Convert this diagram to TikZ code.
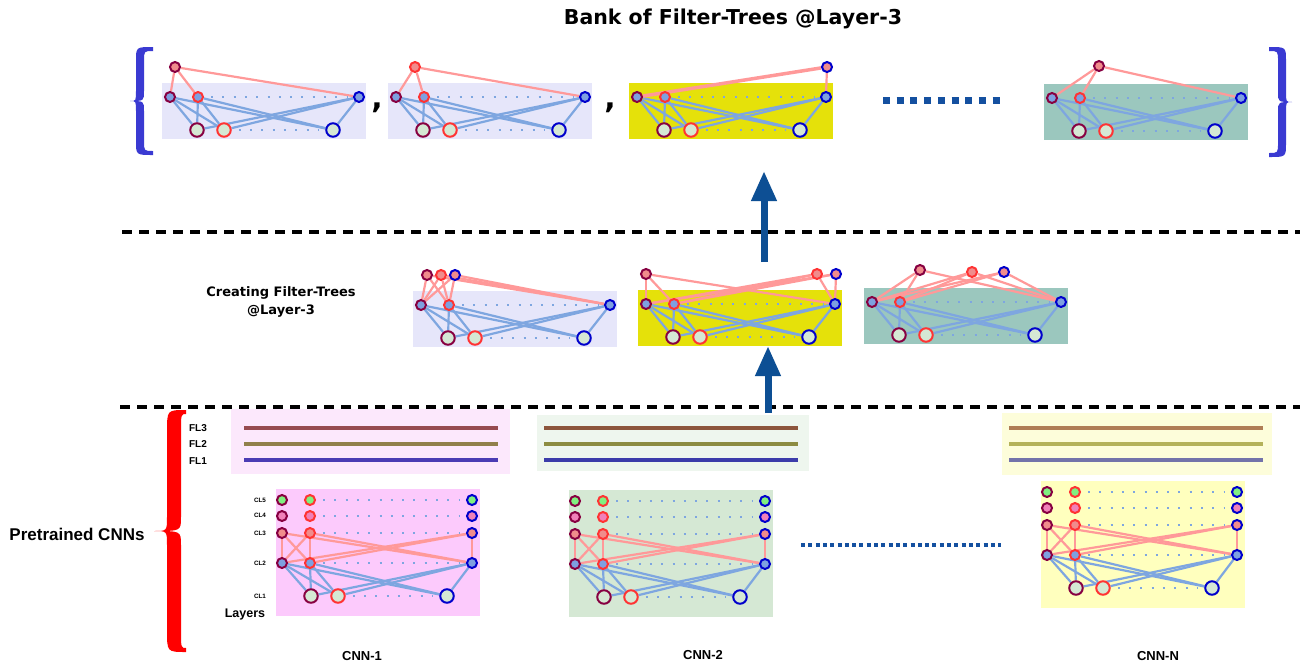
\documentclass[tikz,border=0pt]{standalone}
\usepackage{fontspec}
\setmainfont{Liberation Sans}
\newfontfamily\dejavu{DejaVu Sans}
\usetikzlibrary{arrows.meta}
\pgfdeclarelayer{bg}\pgfdeclarelayer{edges}
\pgfsetlayers{bg,edges,main}
\definecolor{cmar}{RGB}{135,0,65}
\definecolor{cred}{RGB}{255,51,51}
\definecolor{cblu}{RGB}{0,0,204}
\definecolor{fgreen}{RGB}{128,240,128}
\definecolor{fpink}{RGB}{240,128,185}
\definecolor{fsalmon}{RGB}{240,140,140}
\definecolor{fblue}{RGB}{126,160,224}
\definecolor{flight}{RGB}{213,232,212}
\definecolor{cpink}{RGB}{255,153,153}
\definecolor{cbluee}{RGB}{126,166,224}
\definecolor{lav}{RGB}{230,230,250}
\definecolor{yel}{RGB}{229,225,10}
\definecolor{teal}{RGB}{155,199,190}
\definecolor{cAfl}{RGB}{252,232,252}
\definecolor{cAcv}{RGB}{252,202,252}
\definecolor{cBfl}{RGB}{238,246,238}
\definecolor{cBcv}{RGB}{213,232,212}
\definecolor{cNfl}{RGB}{253,253,218}
\definecolor{cNcv}{RGB}{255,255,190}
\definecolor{aLa}{RGB}{150,75,80}\definecolor{aLb}{RGB}{145,128,75}\definecolor{aLc}{RGB}{75,60,180}
\definecolor{bLa}{RGB}{140,85,60}\definecolor{bLb}{RGB}{140,140,65}\definecolor{bLc}{RGB}{60,60,170}
\definecolor{nLa}{RGB}{175,125,85}\definecolor{nLb}{RGB}{180,178,90}\definecolor{nLc}{RGB}{115,115,170}
\definecolor{carrow}{RGB}{13,79,148}
\definecolor{cbrace}{RGB}{58,58,210}
\definecolor{cdots}{RGB}{20,80,160}
\tikzset{
 sn/.style={circle,inner sep=0pt,minimum size=10pt,line width=2pt},
 bn/.style={circle,inner sep=0pt,minimum size=13.5pt,line width=2pt},
 cA/.style={draw=cmar}, cB/.style={draw=cred}, cC/.style={draw=cblu},
 fG/.style={fill=fgreen}, fP/.style={fill=fpink}, fS/.style={fill=fsalmon},
 fB/.style={fill=fblue}, fL/.style={fill=flight},
 dotrow/.style={draw=cbluee,line width=2pt,dash pattern=on 2pt off 9.3pt,shorten <=7pt,shorten >=6pt},
 pe/.style={draw=cpink,line width=2.2pt},
 be/.style={draw=cbluee,line width=2.2pt},
 flline/.style={line width=4pt},
 sepline/.style={draw=black,line width=3.5pt,dash pattern=on 10pt off 7pt},
 bigarrow/.style={draw=carrow,line width=7pt,-{Triangle[width=24pt,length=30pt]}},
 lblfl/.style={font=\bfseries\fontsize{10}{12}\selectfont},
 lblcl/.style={font=\bfseries\fontsize{6.3}{7}\selectfont},
 lblcnn/.style={font=\bfseries\fontsize{13}{15}\selectfont},
 commatext/.style={font=\dejavu\bfseries\fontsize{30}{30}\selectfont,inner sep=0pt},
}
\newcommand{\mkrow}[7]{%
  \node[#6,cA,#7] (#1-1) at ({#3},{#2}) {};
  \node[#6,cB,#7] (#1-2) at ({#4},{#2}) {};
  \node[#6,cC,#7] (#1-3) at ({#5},{#2}) {};
  \draw[dotrow] (#1-2) -- (#1-3);
}
\newcommand{\mkbip}[3]{%
  \begin{pgfonlayer}{edges}
  \foreach \i in {1,2,3}{\foreach \j in {1,2,3}{\draw[#1] (#2-\i) -- (#3-\j);}}
  \end{pgfonlayer}
}
\newcommand{\mktree}[4]{%
  \begin{pgfonlayer}{bg}\fill[#4] (#2,#3) rectangle ({#2+204},{#3+56});\end{pgfonlayer}
  \mkrow{#1m}{#3+14}{#2+8}{#2+36}{#2+197}{sn}{fB}
  \mkrow{#1b}{#3+47}{#2+35}{#2+62}{#2+171}{bn}{fL}
  \mkbip{be}{#1m}{#1b}
}
\newcommand{\mkconv}[4]{%
  \begin{pgfonlayer}{bg}\fill[#4] (#2,#3) rectangle ({#2+204},{#3+127});\end{pgfonlayer}
  \mkrow{#1r5}{#3+11}{#2+6}{#2+34}{#2+196}{sn}{fG}
  \mkrow{#1r4}{#3+27}{#2+6}{#2+34}{#2+196}{sn}{fP}
  \mkrow{#1r3}{#3+44}{#2+6}{#2+34}{#2+196}{sn}{fS}
  \mkrow{#1r2}{#3+74}{#2+6}{#2+34}{#2+196}{sn}{fB}
  \mkrow{#1r1}{#3+107}{#2+35}{#2+62}{#2+171}{bn}{fL}
  \mkbip{pe}{#1r3}{#1r2}
  \mkbip{be}{#1r2}{#1r1}
}
% color, xend, xarm-outer, xarm-inner, xtip, ytop, ybot, hook, tipcurve
\newcommand{\mkbrace}[9]{%
  \pgfmathsetmacro\mkym{(#6+#7)/2}
  \fill[#1] (#2,#6) .. controls (#3,#6) .. (#3,{#6+#8}) -- (#3,{\mkym-#9})
    .. controls (#3,\mkym) .. (#5,\mkym) .. controls (#3,\mkym) .. (#3,{\mkym+#9})
    -- (#3,{#7-#8}) .. controls (#3,#7) .. (#2,#7) -- (#2,{#7-4})
    .. controls (#4,{#7-4}) .. (#4,{#7-#8}) -- (#4,{\mkym+#9})
    .. controls (#4,\mkym) .. (#5,\mkym) .. controls (#4,\mkym) .. (#4,{\mkym-#9})
    -- (#4,{#6+#8}) .. controls (#4,{#6+4}) .. (#2,{#6+4}) -- cycle;
}
\begin{document}
\begin{tikzpicture}[x=1pt,y=-1pt]
\useasboundingbox (0,0) rectangle (1304,667);
\begin{pgfonlayer}{bg}\fill[white] (0,0) rectangle (1304,667);\end{pgfonlayer}

% title
\node[font=\dejavu\bfseries\fontsize{20.5}{24}\selectfont] (title) at (733,19) {Bank of Filter-Trees @Layer-3};

% braces
\mkbrace{cbrace}{153}{136}{144}{130}{47}{155}{14}{10}
\mkbrace{cbrace}{1269}{1286}{1278}{1292}{47}{157}{14}{10}
\mkbrace{red}{186}{167}{181}{154}{410}{652}{22}{14}

% bank of filter trees
\mktree{tA}{162}{83}{lav}
\node[sn,cA,fS] (tAtop) at (175,67) {};
\mktree{tB}{388}{83}{lav}
\node[sn,cB,fS] (tBtop) at (415,67) {};
\mktree{tC}{629}{83}{yel}
\node[sn,cC,fS] (tCtop) at (827,67) {};
\mktree{tD}{1044}{84}{teal}
\node[sn,cA,fS] (tDtop) at (1099,66) {};
\begin{pgfonlayer}{edges}
\foreach \j in {1,2,3}{\draw[pe] (tAtop) -- (tAm-\j); \draw[pe] (tBtop) -- (tBm-\j); \draw[pe] (tDtop) -- (tDm-\j);}
\draw[pe,line width=3.5pt] (tCtop) -- (tCm-1);
\draw[pe] (tCtop) -- (tCm-3);
\end{pgfonlayer}
\node[commatext] (comma1) at (377,108) {,};
\node[commatext] (comma2) at (610,108) {,};
\coordinate (dA) at (883,100);
\coordinate (dB) at (1006,100);
\draw[draw=cdots,line width=7pt,dash pattern=on 7pt off 6.7pt] (dA) -- (dB);

% separators
\draw[sepline] (122,232) -- (1300,232);
\draw[sepline] (120,407) -- (1300,407);

% arrows
\coordinate (ar1s) at (764,262);
\coordinate (ar1e) at (764,171);
\draw[bigarrow] (ar1s) -- (ar1e);
\coordinate (ar2s) at (768,413);
\coordinate (ar2e) at (768,346);
\draw[bigarrow] (ar2s) -- (ar2e);

% creating filter trees
\node[font=\dejavu\bfseries\fontsize{13}{18}\selectfont,align=center] (creating) at (281,302) {Creating Filter-Trees\\@Layer-3};
\mktree{mA}{413}{291}{lav}
\node[sn,cA,fS] (mAt-1) at (427,275) {};
\node[sn,cB,fS] (mAt-2) at (441,275) {};
\node[sn,cC,fS] (mAt-3) at (455,275) {};
\mktree{mB}{638}{290}{yel}
\node[sn,cA,fS] (mBt-1) at (646,274) {};
\node[sn,cB,fS] (mBt-2) at (817,274) {};
\node[sn,cC,fS] (mBt-3) at (836,274) {};
\mktree{mC}{864}{288}{teal}
\node[sn,cA,fS] (mCt-1) at (920,270) {};
\node[sn,cB,fS] (mCt-2) at (972,272) {};
\node[sn,cC,fS] (mCt-3) at (1004,272) {};
\mkbip{pe}{mAt}{mAm}
\mkbip{pe}{mBt}{mBm}
\mkbip{pe}{mCt}{mCm}

% pretrained CNNs
\node[font=\bfseries\fontsize{17}{20}\selectfont] (pre) at (77,534) {Pretrained CNNs};
\node[lblfl] (fl3) at (198,428) {FL3};
\node[lblfl] (fl2) at (198,444) {FL2};
\node[lblfl] (fl1) at (198,461) {FL1};

\begin{pgfonlayer}{bg}
\fill[cAfl] (231,409) rectangle (510,474);
\fill[cBfl] (537,415) rectangle (809,471);
\fill[cNfl] (1002,413) rectangle (1272,475);
\end{pgfonlayer}
\draw[flline,aLa] (244,428) -- (498,428);
\draw[flline,aLb] (244,444) -- (498,444);
\draw[flline,aLc] (244,460) -- (498,460);
\draw[flline,bLa] (544,428) -- (798,428);
\draw[flline,bLb] (544,444) -- (798,444);
\draw[flline,bLc] (544,460) -- (798,460);
\draw[flline,nLa] (1009,428) -- (1263,428);
\draw[flline,nLb] (1009,444) -- (1263,444);
\draw[flline,nLc] (1009,460) -- (1263,460);

\mkconv{cA}{276}{489}{cAcv}
\mkconv{cB}{569}{490}{cBcv}
\mkconv{cN}{1041}{481}{cNcv}

\node[lblcl] (cl5) at (260,500) {CL5};
\node[lblcl] (cl4) at (260,515) {CL4};
\node[lblcl] (cl3) at (260,533) {CL3};
\node[lblcl] (cl2) at (260,563) {CL2};
\node[lblcl] (cl1) at (260,596) {CL1};
\node[font=\bfseries\fontsize{12.5}{14}\selectfont] (layers) at (245,614) {Layers};

\coordinate (eA) at (801,545);
\coordinate (eB) at (1001,545);
\draw[draw=cdots,line width=4pt,dash pattern=on 4pt off 3.3pt] (eA) -- (eB);

\node[lblcnn] (n1) at (362,656) {CNN-1};
\node[lblcnn] (n2) at (703,655) {CNN-2};
\node[lblcnn] (nN) at (1158,656) {CNN-N};
\end{tikzpicture}
\end{document}
